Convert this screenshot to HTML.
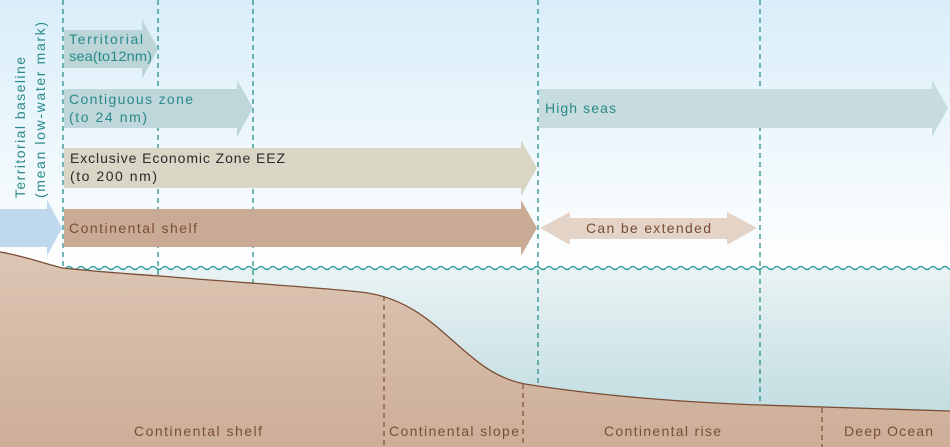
<!DOCTYPE html>
<html><head><meta charset="utf-8"><style>
html,body{margin:0;padding:0;background:#fff}
svg{display:block}
text{font-family:"Liberation Sans",sans-serif;font-size:14px}
</style></head><body>
<svg width="950" height="447" viewBox="0 0 950 447" xmlns="http://www.w3.org/2000/svg">
<defs>
<linearGradient id="sky" x1="0" y1="0" x2="0" y2="1">
<stop offset="0" stop-color="#d9eef9"/><stop offset="1" stop-color="#ffffff"/></linearGradient>
<linearGradient id="sea" x1="0" y1="0" x2="0" y2="1">
<stop offset="0" stop-color="#eaf3f4"/><stop offset="1" stop-color="#b8d8dc"/></linearGradient>
<linearGradient id="gnd" x1="0" y1="0" x2="0" y2="1">
<stop offset="0" stop-color="#dcc6b4"/><stop offset="1" stop-color="#cdae98"/></linearGradient>
<pattern id="wv" x="66" y="262" width="12" height="12" patternUnits="userSpaceOnUse">
<path d="M0 6 q3 -3 6 0 q3 3 6 0" fill="none" stroke="#2f9c9e" stroke-width="1.5"/>
</pattern>
</defs>
<rect x="0" y="0" width="950" height="268" fill="url(#sky)"/>
<rect x="0" y="268" width="950" height="179" fill="url(#sea)"/>
<rect x="66" y="262" width="884" height="12" fill="url(#wv)"/>
<!-- teal dashed lines -->
<g stroke="#2a8f8f" stroke-width="1.3" stroke-dasharray="5,4">
<line x1="63" y1="0" x2="63" y2="268"/>
<line x1="158" y1="0" x2="158" y2="276"/>
<line x1="253" y1="0" x2="253" y2="283"/>
<line x1="538" y1="0" x2="538" y2="387"/>
<line x1="760" y1="0" x2="760" y2="405"/>
</g>
<!-- ground -->
<path d="M0 252 C25 256 45 264 63 268 C100 272 130 274 160 276 C230 282 300 286 360 292 C440 300 460 372 525 384 C600 396 680 402 760 405 C840 408 900 410 950 411 L950 447 L0 447 Z" fill="url(#gnd)"/>
<path d="M0 252 C25 256 45 264 63 268 C100 272 130 274 160 276 C230 282 300 286 360 292 C440 300 460 372 525 384 C600 396 680 402 760 405 C840 408 900 410 950 411" fill="none" stroke="#7a4e35" stroke-width="1.3"/>
<g stroke="#7a4e35" stroke-width="1.2" stroke-dasharray="5,4">
<line x1="384" y1="296" x2="384" y2="447"/>
<line x1="523" y1="384" x2="523" y2="447"/>
<line x1="822" y1="408" x2="822" y2="447"/>
</g>
<!-- arrows -->
<polygon points="64,30 142,30 142,19 158,49 142,79 142,68 64,68" fill="#bcd6d8"/>
<polygon points="64,89 237,89 237,80 253,108 237,137 237,128 64,128" fill="#bfd7da"/>
<polygon points="64,148 521,148 521,140 537,168 521,196 521,188 64,188" fill="#dad6c6"/>
<polygon points="64,209 521,209 521,200 537,228 521,256 521,247 64,247" fill="#c9ab95"/>
<polygon points="0,209 47,209 47,200 62,228 47,256 47,247 0,247" fill="#bfd8ee"/>
<polygon points="539,89 932,89 932,80 948,108 932,137 932,128 539,128" fill="#c6dcdf"/>
<polygon points="540,228 570,212 570,218 727,218 727,212 757,228 727,245 727,239 570,239 570,245" fill="#e4d3c7"/>
<!-- texts -->
<g fill="#2a8a8a">
<text x="69" y="44" textLength="74" lengthAdjust="spacing">Territorial</text>
<text x="69" y="61" textLength="83" lengthAdjust="spacingAndGlyphs">sea(to12nm)</text>
<text x="69" y="104" textLength="124" lengthAdjust="spacing">Contiguous zone</text>
<text x="69" y="122" textLength="78" lengthAdjust="spacing">(to 24 nm)</text>
<text x="545" y="113" textLength="71" lengthAdjust="spacing">High seas</text>
<text transform="translate(25,198) rotate(-90)" textLength="141" lengthAdjust="spacing">Territorial baseline</text>
<text transform="translate(45,198) rotate(-90)" textLength="176" lengthAdjust="spacing">(mean low-water mark)</text>
</g>
<g fill="#2b2b2b">
<text x="70" y="163" textLength="215" lengthAdjust="spacing">Exclusive Economic Zone EEZ</text>
<text x="70" y="181" textLength="87" lengthAdjust="spacing">(to 200 nm)</text>
</g>
<g fill="#7a4e35">
<text x="69" y="233" textLength="128" lengthAdjust="spacing">Continental shelf</text>
<text x="586" y="233" textLength="125" lengthAdjust="spacing">Can be extended</text>
<text x="134" y="436" textLength="128" lengthAdjust="spacing">Continental shelf</text>
<text x="389" y="436" textLength="130" lengthAdjust="spacing">Continental slope</text>
<text x="604" y="436" textLength="117" lengthAdjust="spacing">Continental rise</text>
<text x="844" y="436" textLength="89" lengthAdjust="spacing">Deep Ocean</text>
</g>
</svg>
</body></html>
